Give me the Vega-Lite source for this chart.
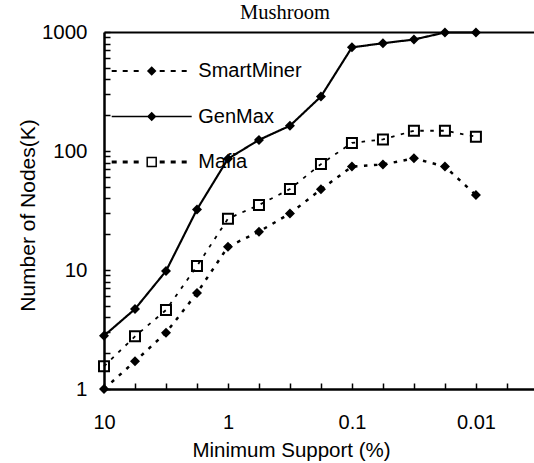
{
  "$schema": "https://vega.github.io/schema/vega-lite/v6.json",
  "autosize": "none",
  "padding": {"left": 104, "top": 32, "right": 0, "bottom": 74},
  "width": 430,
  "height": 357,
  "background": "white",
  "title": {"text": "Mushroom", "font": "Liberation Serif", "fontSize": 20.5, "fontWeight": "normal", "color": "black", "anchor": "middle", "frame": "group", "dx": -34, "dy": 10, "offset": 8.6},
  "data": {"values": [
    {"series": "GenMax", "support": 10, "nodes": 2.8},
    {"series": "GenMax", "support": 5.623, "nodes": 4.7},
    {"series": "GenMax", "support": 3.162, "nodes": 9.8},
    {"series": "GenMax", "support": 1.778, "nodes": 32.3},
    {"series": "GenMax", "support": 1, "nodes": 86},
    {"series": "GenMax", "support": 0.5623, "nodes": 124},
    {"series": "GenMax", "support": 0.3162, "nodes": 163},
    {"series": "GenMax", "support": 0.1778, "nodes": 287},
    {"series": "GenMax", "support": 0.1, "nodes": 743},
    {"series": "GenMax", "support": 0.05623, "nodes": 804},
    {"series": "GenMax", "support": 0.03162, "nodes": 865},
    {"series": "GenMax", "support": 0.01778, "nodes": 990},
    {"series": "GenMax", "support": 0.01, "nodes": 990},
    {"series": "SmartMiner", "support": 10, "nodes": 1.0},
    {"series": "SmartMiner", "support": 5.623, "nodes": 1.71},
    {"series": "SmartMiner", "support": 3.162, "nodes": 2.97},
    {"series": "SmartMiner", "support": 1.778, "nodes": 6.4},
    {"series": "SmartMiner", "support": 1, "nodes": 15.7},
    {"series": "SmartMiner", "support": 0.5623, "nodes": 21.0},
    {"series": "SmartMiner", "support": 0.3162, "nodes": 29.8},
    {"series": "SmartMiner", "support": 0.1778, "nodes": 47.6},
    {"series": "SmartMiner", "support": 0.1, "nodes": 74},
    {"series": "SmartMiner", "support": 0.05623, "nodes": 77},
    {"series": "SmartMiner", "support": 0.03162, "nodes": 86.8},
    {"series": "SmartMiner", "support": 0.01778, "nodes": 74},
    {"series": "SmartMiner", "support": 0.01, "nodes": 42.6},
    {"series": "Mafia", "support": 10, "nodes": 1.55},
    {"series": "Mafia", "support": 5.623, "nodes": 2.77},
    {"series": "Mafia", "support": 3.162, "nodes": 4.61},
    {"series": "Mafia", "support": 1.778, "nodes": 10.8},
    {"series": "Mafia", "support": 1, "nodes": 27.0},
    {"series": "Mafia", "support": 0.5623, "nodes": 35.2},
    {"series": "Mafia", "support": 0.3162, "nodes": 47.9},
    {"series": "Mafia", "support": 0.1778, "nodes": 77.6},
    {"series": "Mafia", "support": 0.1, "nodes": 117},
    {"series": "Mafia", "support": 0.05623, "nodes": 125},
    {"series": "Mafia", "support": 0.03162, "nodes": 148},
    {"series": "Mafia", "support": 0.01778, "nodes": 148},
    {"series": "Mafia", "support": 0.01, "nodes": 132}
  ]},
  "layer": [
    {
      "mark": {"type": "line", "color": "black", "clip": false},
      "encoding": {
        "x": {"field": "support", "type": "quantitative",
          "scale": {"type": "log", "domain": [0.0034, 10], "reverse": true, "nice": false},
          "axis": {"orient": "bottom", "values": [10, 5.623, 3.162, 1.778, 1, 0.5623, 0.3162, 0.1778, 0.1, 0.05623, 0.03162, 0.01778, 0.01, 0.005623],
            "labelExpr": "datum.value == 10 ? '10' : datum.value == 1 ? '1' : datum.value == 0.1 ? '0.1' : datum.value == 0.01 ? '0.01' : ''",
            "tickSize": -6, "tickWidth": 1.5, "domainWidth": 2.5, "labelPadding": 29, "labelFontSize": 20, "labelFlush": false, "labelOverlap": false,
            "title": "Minimum Support (%)", "titleFontSize": 20.5, "titleX": 187, "titleY": 51}},
        "y": {"field": "nodes", "type": "quantitative",
          "scale": {"type": "log", "domain": [1, 1000], "nice": false},
          "axis": {"values": [1,2,3,4,5,6,7,8,9,10,20,30,40,50,60,70,80,90,100,200,300,400,500,600,700,800,900,1000],
            "format": "d",
            "labelExpr": "datum.value == 1 || datum.value == 10 || datum.value == 100 || datum.value == 1000 ? datum.label : ''",
            "tickSize": -6, "tickWidth": 1.5, "domainWidth": 2.5, "labelPadding": 23, "labelFontSize": 20.5, "labelFlush": false, "labelOverlap": false,
            "title": "Number of Nodes(K)", "titleFontSize": 21, "titleX": -66, "titleY": 183}},
        "detail": {"field": "series"},
        "strokeDash": {"field": "series", "type": "nominal",
          "scale": {"domain": ["SmartMiner", "GenMax", "Mafia"], "range": [[3.5, 6.5], [1, 0], [3.5, 6.5]]},
          "legend": {
            "title": null, "orient": "none", "legendX": 37.7, "legendY": 29, "padding": 0,
            "symbolType": "M-8,0H8M0,-0.95L0.95,0L0,0.95L-0.95,0Z",
            "symbolSize": 100, "symbolStrokeWidth": 2, "symbolOffset": 0,
            "symbolFillColor": "black", "symbolStrokeColor": "black",
            "labelOffset": 36.6, "rowPadding": 25.5,
            "labelFont": "Liberation Sans", "labelFontSize": 20, "labelColor": "black"
          }},
        "strokeWidth": {"field": "series", "type": "nominal",
          "scale": {"domain": ["SmartMiner", "GenMax", "Mafia"], "range": [2.5, 1.8, 2.5]}, "legend": null}
      }
    },
    {
      "transform": [{"filter": "datum.series != 'Mafia'"}],
      "mark": {"type": "point", "shape": "diamond", "filled": true, "color": "black", "size": 100, "opacity": 1, "clip": false},
      "encoding": {
        "x": {"field": "support", "type": "quantitative", "axis": {"orient": "top", "labels": false, "ticks": false, "title": null, "domainWidth": 2, "domainColor": "black"}},
        "y": {"field": "nodes", "type": "quantitative"}
      }
    },
    {
      "transform": [{"filter": "datum.series == 'Mafia'"}],
      "mark": {"type": "point", "shape": "square", "filled": false, "color": "black", "strokeWidth": 2, "size": 100, "opacity": 1, "clip": false},
      "encoding": {
        "x": {"field": "support", "type": "quantitative", "axis": null},
        "y": {"field": "nodes", "type": "quantitative"}
      }
    },
    {
      "transform": [{"filter": "datum.series == 'none'"}],
      "mark": {"type": "point", "filled": true, "color": "black", "size": 100, "opacity": 1},
      "encoding": {
        "x": {"field": "support", "type": "quantitative", "axis": null},
        "y": {"field": "nodes", "type": "quantitative"},
        "shape": {"field": "series", "type": "nominal",
          "scale": {"domain": ["SmartMiner", "GenMax", "Mafia"],
            "range": [
              "M-8,-0.2H-7V0.2H-8Z M-5.8,-0.2H-4.8V0.2H-5.8Z M-3.6,-0.2H-2.6V0.2H-3.6Z M1.6,-0.2H2.6V0.2H1.6Z M3.8,-0.2H4.8V0.2H3.8Z M6,-0.2H7V0.2H6Z M0,-0.95L0.95,0L0,0.95L-0.95,0Z",
              "M-8,-0.16H8V0.16H-8Z M0,-0.95L0.95,0L0,0.95L-0.95,0Z",
              "M-8,-0.3H-7V0.3H-8Z M-5.8,-0.3H-4.8V0.3H-5.8Z M-3.6,-0.3H-2.6V0.3H-3.6Z M1.6,-0.3H2.6V0.3H1.6Z M3.8,-0.3H4.8V0.3H3.8Z M6,-0.3H7V0.3H6Z M-1.05,-1.05H1.05V1.05H-1.05Z M-0.75,-0.75V0.75H0.75V-0.75Z"
            ]},
          "legend": {
            "title": null, "orient": "none", "legendX": 37.7, "legendY": 29, "padding": 0,
            "symbolSize": 100, "symbolStrokeWidth": 2, "symbolOffset": 0,
            "symbolFillColor": "black", "symbolStrokeColor": "black",
            "labelOffset": 36.6, "rowPadding": 25.5,
            "labelFont": "Liberation Sans", "labelFontSize": 20, "labelColor": "black"
          }}
      }
    }
  ],
  "resolve": {"axis": {"x": "independent"}},
  "config": {
    "view": {"stroke": null},
    "axis": {"grid": false, "domainColor": "black", "tickColor": "black", "labelColor": "black", "titleColor": "black",
      "labelFont": "Liberation Sans", "titleFont": "Liberation Sans", "titleFontWeight": "normal"}
  }
}
